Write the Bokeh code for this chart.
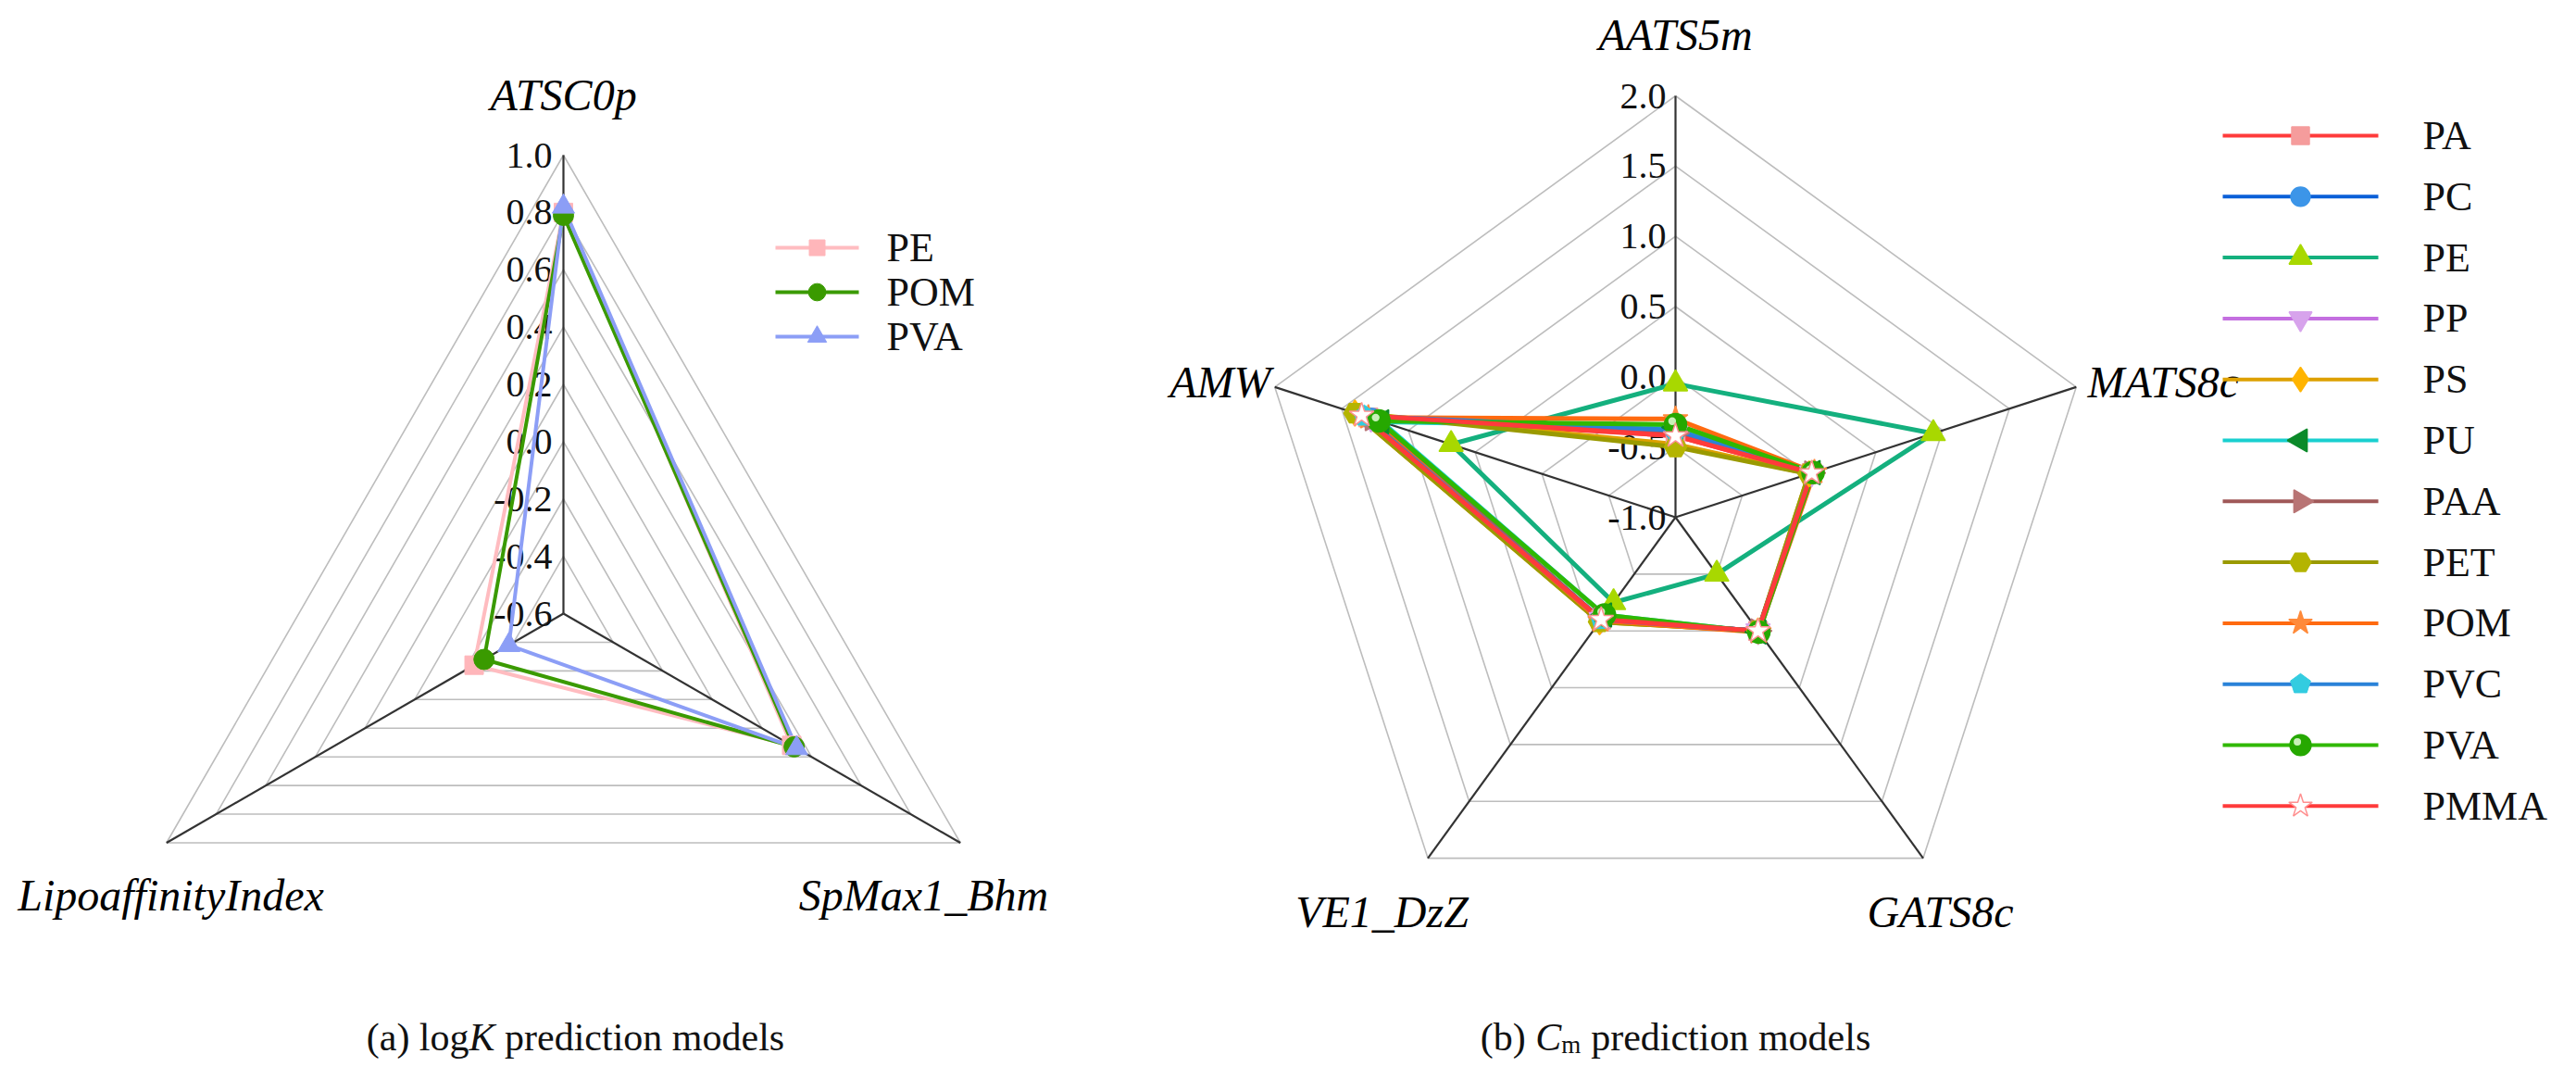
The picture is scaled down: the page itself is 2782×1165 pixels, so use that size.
import numpy as np
from bokeh.plotting import figure
from bokeh.models import Range1d
from bokeh.core.properties import value
from bokeh.embed import file_html
from bokeh.resources import INLINE

# ---------------- data: (a) logK prediction models ----------------
a_axes = ["ATSC0p", "SpMax1_Bhm", "LipoaffinityIndex"]
a_ticks = [1.0, 0.8, 0.6, 0.4, 0.2, 0.0, -0.2, -0.4, -0.6]
a_tick_labels = ["1.0", "0.8", "0.6", "0.4", "0.2", "0.0", "-0.2", "-0.4", "-0.6"]
a_series = ["PE", "POM", "PVA"]
a_PE = [0.80, 0.32, -0.24]
a_POM = [0.79, 0.33, -0.28]
a_PVA = [0.82, 0.34, -0.38]

# ---------------- data: (b) Cm prediction models ----------------
b_axes = ["AATS5m", "MATS8c", "GATS8c", "VE1_DzZ", "AMW"]
b_ticks = [2.0, 1.5, 1.0, 0.5, 0.0, -0.5, -1.0]
b_tick_labels = ["2.0", "1.5", "1.0", "0.5", "0.0", "-0.5", "-1.0"]
b_series = ["PA", "PC", "PE", "PP", "PS", "PU", "PAA", "PET", "POM", "PVC", "PVA", "PMMA"]
b_PA = [-0.42, 0.02, 0.00, -0.10, 1.30]
b_PC = [-0.38, 0.02, 0.00, -0.10, 1.28]
b_PE = [-0.05, 0.93, -0.50, -0.25, 0.68]
b_PP = [-0.40, 0.02, 0.00, -0.10, 1.28]
b_PS = [-0.48, 0.00, 0.00, -0.08, 1.40]
b_PU = [-0.36, 0.03, 0.01, -0.14, 1.20]
b_PAA = [-0.40, 0.02, 0.00, -0.10, 1.27]
b_PET = [-0.50, 0.00, 0.00, -0.08, 1.40]
b_POM = [-0.30, 0.04, 0.01, -0.09, 1.30]
b_PVC = [-0.38, 0.02, 0.00, -0.10, 1.33]
b_PVA = [-0.34, 0.03, 0.01, -0.14, 1.22]
b_PMMA = [-0.42, 0.02, 0.00, -0.10, 1.35]

# ---------------- layout / styles ----------------
W, H = 2766, 1149
FONT = value("Liberation Serif")
A_CX, A_CY, A_R, A_MIN, A_MAX = 616, 670, 495, -0.6, 1.0
B_CX, B_CY, B_R, B_MIN, B_MAX = 1817, 566, 455, -1.0, 2.0

p = figure(width=W, height=H, output_backend="svg", toolbar_location=None,
           x_range=Range1d(8, 8 + W), y_range=Range1d(8 + H, 8),
           min_border=0, outline_line_color=None)
p.axis.visible = False
p.grid.visible = False
p.background_fill_color = "white"
p.border_fill_color = "white"


def to_xy(vals, cx, cy, R, vmin, vmax):
    n = len(vals)
    ang = np.arange(n) * 2 * np.pi / n
    r = (np.asarray(vals, dtype=float) - vmin) / (vmax - vmin) * R
    return cx + r * np.sin(ang), cy - r * np.cos(ang)


def close(a):
    a = list(a)
    return a + [a[0]]


def grid(cx, cy, R, vmin, vmax, n, ticks):
    for t in ticks:
        if t == vmin:
            continue
        xs, ys = to_xy([t] * n, cx, cy, R, vmin, vmax)
        p.line(close(xs), close(ys), line_color="#BDBDBD", line_width=1.6)
    xo, yo = to_xy([vmax] * n, cx, cy, R, vmin, vmax)
    for i in range(n):
        p.line([cx, xo[i]], [cy, yo[i]], line_color="#333333", line_width=2.2)


def pentagon(x, y, rad):
    ang = np.arange(5) * 2 * np.pi / 5
    return list(x + rad * np.sin(ang)), list(y - rad * np.cos(ang))


# ================= chart (a) =================
grid(A_CX, A_CY, A_R, A_MIN, A_MAX, 3, a_ticks)
for v, lab in zip(a_ticks, a_tick_labels):
    yy = A_CY - (v - A_MIN) / (A_MAX - A_MIN) * A_R
    p.text([A_CX - 12], [yy], text=[lab], text_font=FONT, text_font_size="40px",
           text_align="right", text_baseline="middle", text_color="#111111")

a_style = {
    "PE": ("#FFBCC0", "square", "#FFB6BA", 20),
    "POM": ("#3A9A00", "circle", "#3A9A00", 22),
    "PVA": ("#8C9EF6", "triangle", "#8C9EF6", 24),
}
a_vals = {"PE": a_PE, "POM": a_POM, "PVA": a_PVA}
for s in a_series:
    xs, ys = to_xy(a_vals[s], A_CX, A_CY, A_R, A_MIN, A_MAX)
    col = a_style[s][0]
    p.line(close(xs), close(ys), line_color=col, line_width=4, line_join="round")
for s in a_series:
    xs, ys = to_xy(a_vals[s], A_CX, A_CY, A_R, A_MIN, A_MAX)
    col, mk, fc, sz = a_style[s]
    p.scatter(list(xs), list(ys), marker=mk, size=sz, fill_color=fc, line_color=fc)

# axis labels (a)
p.text([A_CX], [110], text=[a_axes[0]], text_font=FONT, text_font_style="italic",
       text_font_size="48px", text_align="center", text_baseline="middle")
p.text([1005], [974], text=[a_axes[1]], text_font=FONT, text_font_style="italic",
       text_font_size="48px", text_align="center", text_baseline="middle")
p.text([192], [974], text=[a_axes[2]], text_font=FONT, text_font_style="italic",
       text_font_size="48px", text_align="center", text_baseline="middle")

# legend (a)
for i, s in enumerate(a_series):
    ly = 275 + i * 48
    col, mk, fc, sz = a_style[s]
    p.line([845, 935], [ly, ly], line_color=col, line_width=4)
    p.scatter([890], [ly], marker=mk, size=sz * 0.85, fill_color=fc, line_color=fc)
    p.text([965], [ly], text=[s], text_font=FONT, text_font_size="44px",
           text_align="left", text_baseline="middle", text_color="#111111")

# ================= chart (b) =================
grid(B_CX, B_CY, B_R, B_MIN, B_MAX, 5, b_ticks)
for v, lab in zip(b_ticks, b_tick_labels):
    yy = B_CY - (v - B_MIN) / (B_MAX - B_MIN) * B_R
    p.text([B_CX - 10], [yy], text=[lab], text_font=FONT, text_font_size="40px",
           text_align="right", text_baseline="middle", text_color="#111111")

b_vals = {"PA": b_PA, "PC": b_PC, "PE": b_PE, "PP": b_PP, "PS": b_PS, "PU": b_PU,
          "PAA": b_PAA, "PET": b_PET, "POM": b_POM, "PVC": b_PVC, "PVA": b_PVA,
          "PMMA": b_PMMA}
# line colour, marker, marker fill, marker line, size, angle
b_style = {
    "PA": ("#FF3B3B", "square", "#F59C9C", "#F59C9C", 20, 0),
    "PC": ("#0A5FD8", "circle", "#3C95E8", "#3C95E8", 22, 0),
    "PE": ("#14B07E", "triangle", "#A8D800", "#A8D800", 26, 0),
    "PP": ("#C46FE0", "inverted_triangle", "#D7A3EC", "#D7A3EC", 26, 0),
    "PS": ("#DDA000", "diamond", "#FFB400", "#FFB400", 28, 0),
    "PU": ("#19D0D0", "triangle", "#0B8A2A", "#0B8A2A", 26, np.pi / 2),
    "PAA": ("#A05858", "triangle", "#B87474", "#B87474", 26, -np.pi / 2),
    "PET": ("#9A9A00", "hex", "#B4B400", "#B4B400", 24, 0),
    "POM": ("#FF6A10", "star", "#FF8A3A", "#FF8A3A", 28, 0),
    "PVC": ("#2A82D8", "pentagon", "#33CCE0", "#33CCE0", 24, 0),
    "PVA": ("#30B800", "circle", "#26A800", "#26A800", 24, 0),
    "PMMA": ("#FF3B3B", "star", "#FFFFFF", "#FF9090", 28, 0),
}

for s in b_series:
    xs, ys = to_xy(b_vals[s], B_CX, B_CY, B_R, B_MIN, B_MAX)
    p.line(close(xs), close(ys), line_color=b_style[s][0], line_width=5, line_join="round")


def draw_marker(s, xs, ys, scale=1.0):
    col, mk, fc, lc, sz, ang = b_style[s]
    sz = sz * scale
    if mk == "pentagon":
        pxs, pys = [], []
        for x, y in zip(xs, ys):
            a, b = pentagon(x, y, sz * 0.5)
            pxs.append(a)
            pys.append(b)
        p.patches(pxs, pys, fill_color=fc, line_color=lc)
    else:
        p.scatter(list(xs), list(ys), marker=mk, size=sz, angle=ang,
                  fill_color=fc, line_color=lc, line_width=1.5)
    if s == "PVA":
        p.scatter([x - sz * 0.15 for x in xs], [y - sz * 0.15 for y in ys], marker="circle",
                  size=sz * 0.35, fill_color="#C8F0B8", line_color=None)


for s in b_series:
    xs, ys = to_xy(b_vals[s], B_CX, B_CY, B_R, B_MIN, B_MAX)
    draw_marker(s, list(xs), list(ys))

# axis labels (b)
lab_kw = dict(text_font=FONT, text_font_style="italic", text_font_size="48px",
              text_baseline="middle")
p.text([B_CX], [45], text=[b_axes[0]], text_align="center", **lab_kw)
p.text([2262], [420], text=[b_axes[1]], text_align="left", **lab_kw)
p.text([2103], [992], text=[b_axes[2]], text_align="center", **lab_kw)
p.text([1500], [992], text=[b_axes[3]], text_align="center", **lab_kw)
p.text([1380], [420], text=[b_axes[4]], text_align="right", **lab_kw)

# legend (b)
for i, s in enumerate(b_series):
    ly = 154 + i * 65.8
    p.line([2408, 2576], [ly, ly], line_color=b_style[s][0], line_width=4)
    draw_marker(s, [2492], [ly], scale=0.95)
    p.text([2624], [ly], text=[s], text_font=FONT, text_font_size="44px",
           text_align="left", text_baseline="middle", text_color="#111111")

# captions (pieces placed side by side; widths from Times metrics)
FS = 42
cap_kw = dict(text_font=FONT, text_font_size="%dpx" % FS, text_baseline="alphabetic",
              text_align="left", text_color="#111111")
xa = 629 - 10.75 * FS / 2
p.text([xa], [1127], text=["(a) log"], **cap_kw)
p.text([xa + 2.638 * FS], [1127], text=["K"], text_font_style="italic", **cap_kw)
p.text([xa + 3.305 * FS + 0.25 * FS], [1127], text=["prediction models"], **cap_kw)

xb = 1817 - 10.03 * FS / 2
p.text([xb], [1127], text=["(b)"], **cap_kw)
p.text([xb + 1.416 * FS], [1127], text=["C"], text_font_style="italic", **cap_kw)
p.text([xb + 2.083 * FS], [1135], text=["m"], text_font=FONT, text_font_size="27px",
       text_baseline="alphabetic", text_align="left", text_color="#111111")
p.text([xb + 2.59 * FS + 0.25 * FS], [1127], text=["prediction models"], **cap_kw)

open("out.html", "w").write(file_html(p, INLINE))
